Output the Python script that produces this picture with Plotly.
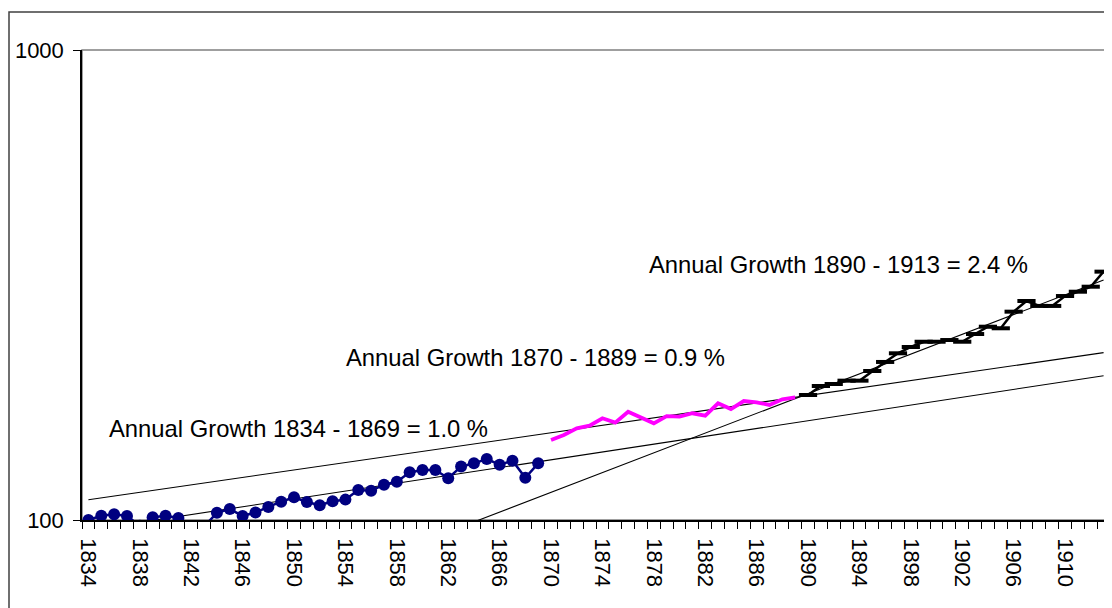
import numpy as np
import plotly.graph_objects as go

years = list(range(1834, 1914))

years_a = list(range(1834, 1870))
vals_a = [100.0, 102.1, 102.8, 102.0, 97.2, 101.3, 102.1, 101.0, 96.0, 96.8,
          103.6, 105.5, 102.0, 103.7, 106.6, 109.4, 111.8, 109.2, 107.5, 109.6,
          110.5, 115.8, 115.4, 118.9, 120.6, 126.3, 127.8, 127.8, 122.7, 129.9,
          132.0, 134.8, 131.1, 133.7, 123.0, 132.0]

years_b = list(range(1870, 1890))
vals_b = [148.0, 151.7, 156.7, 158.7, 164.6, 161.1, 170.0, 165.6, 160.6, 166.4,
          165.9, 168.7, 166.7, 177.1, 172.2, 179.1, 178.0, 175.7, 180.6, 182.4]

years_c = list(range(1890, 1914))
vals_c = [184.5, 192.8, 194.7, 197.9, 197.9, 207.5, 216.9, 226.3, 233.4, 239.5,
          239.5, 241.5, 239.5, 248.7, 257.8, 255.8, 277.5, 292.4, 285.4, 285.4,
          299.6, 306.0, 313.6, 337.6]

label_years = list(range(1834, 1914, 4))
labels = [str(y) for y in label_years]

annotations_text = [
    "Annual Growth 1834 - 1869 = 1.0 %",
    "Annual Growth 1870 - 1889 = 0.9 %",
    "Annual Growth 1890 - 1913 = 2.4 %",
]

FONT = "Liberation Sans, Arial, sans-serif"

fig = go.Figure()

# exponential trend lines (fitted on log values), drawn across the whole range
yr = np.array(years, dtype=float)
for xs, vs in [(years_a, vals_a), (years_b, vals_b), (years_c, vals_c)]:
    k, b = np.polyfit(np.array(xs, float), np.log10(np.array(vs, float)), 1)
    fig.add_trace(go.Scatter(x=yr, y=10 ** (k * yr + b), mode="lines",
                             line=dict(color="black", width=1.1),
                             showlegend=False, hoverinfo="skip"))

fig.add_trace(go.Scatter(x=years_a, y=vals_a, mode="lines+markers",
                         line=dict(color="#000080", width=2.5),
                         marker=dict(symbol="circle", size=12, color="#000080"),
                         showlegend=False))
fig.add_trace(go.Scatter(x=years_b, y=vals_b, mode="lines",
                         line=dict(color="#FF00FF", width=3.8),
                         showlegend=False))
fig.add_trace(go.Scatter(x=years_c, y=vals_c, mode="lines+markers",
                         line=dict(color="black", width=2.5),
                         marker=dict(symbol="line-ew", size=13,
                                     line=dict(color="black", width=4)),
                         showlegend=False))

# plot area (page px): x 82..1110, y 50..520 ; figure is offset by 8px body margin
ann_pos = [(107, 428), (344, 357), (647, 264)]
for txt, (px, py) in zip(annotations_text, ann_pos):
    fig.add_annotation(text=txt, xref="paper", yref="paper",
                       x=(px - 82) / 1028, y=(520 - py) / 470,
                       xanchor="left", yanchor="middle", showarrow=False,
                       font=dict(family=FONT, size=23.8, color="black"))

# outer chart border
fig.add_shape(type="rect", xref="paper", yref="paper",
              x0=(9 - 82) / 1028, x1=1.2, y0=-0.4, y1=1 + (50 - 12) / 470,
              line=dict(color="#404040", width=1.5), layer="below")
# plot area border (grey top/right)
fig.add_shape(type="rect", xref="paper", yref="paper",
              x0=0, x1=1, y0=0, y1=1,
              line=dict(color="#808080", width=1.5), layer="below")

fig.update_layout(
    width=1104, height=600,
    margin=dict(l=74, r=2, t=42, b=88),
    paper_bgcolor="white", plot_bgcolor="white",
    font=dict(family=FONT, color="black"),
    showlegend=False,
)
fig.update_xaxes(
    range=[1833.5, 1913.5], showgrid=False, zeroline=False,
    showline=True, linecolor="black", linewidth=1.5,
    tickmode="array", tickvals=label_years, ticktext=labels,
    ticks="", tickangle=90, tickfont=dict(family=FONT, size=22),
    ticklabelstandoff=12,
    minor=dict(tickmode="linear", tick0=1833.5, dtick=1, ticks="outside",
               ticklen=7, tickcolor="black", tickwidth=1, showgrid=False),
)
fig.update_yaxes(
    type="log", range=[2, 3], showgrid=False, zeroline=False,
    showline=True, linecolor="black", linewidth=1.5,
    tickmode="array", tickvals=[100, 1000], ticktext=["100", "1000"],
    ticks="outside", ticklen=7, tickcolor="black",
    tickfont=dict(family=FONT, size=22), ticklabelstandoff=5,
)

fig.write_html("out.html")
